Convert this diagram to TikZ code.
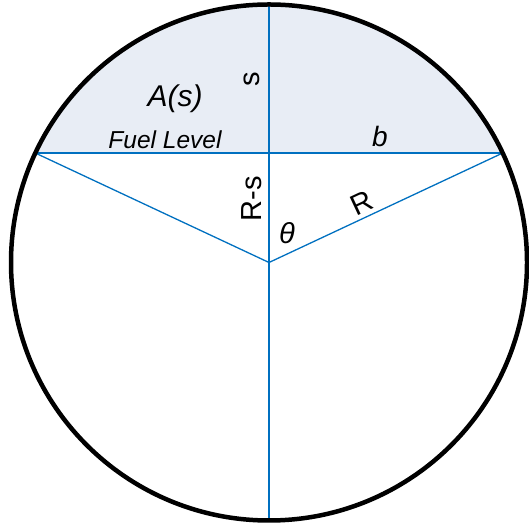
\documentclass[tikz,border=0pt]{standalone}
\usepackage{fontspec}
\setmainfont{Liberation Sans}
\usetikzlibrary{calc}
\definecolor{tankblue}{RGB}{0,112,192}
\definecolor{fuelfill}{RGB}{232,237,245}

\begin{document}
\begin{tikzpicture}[x=1pt,y=1pt,
  radial/.style={draw=tankblue,line width=1.3pt},
  lbl/.style={inner sep=0pt,font=\fontsize{29}{29}\selectfont}]
  \useasboundingbox (0,0) rectangle (528,529);
  \coordinate (O) at (269,266.5);
  \coordinate (L) at ($(O)+(154.9:258)$);
  \coordinate (Rt) at ($(O)+(25.1:258)$);
  \coordinate (T) at ($(O)+(0,258)$);
  \coordinate (B) at ($(O)+(0,-258)$);
  % fuel segment above the level
  \fill[fuelfill] (Rt) arc[start angle=25.1,end angle=154.9,radius=258pt] -- cycle;
  \draw[radial] (L) -- (Rt);
  \draw[radial] (T) -- (B);
  \draw[radial] (L) -- (O) -- (Rt);
  \draw[line width=4.5pt] (O) circle (258pt);
  \node[lbl,font=\fontsize{30}{30}\selectfont\itshape] (area) at (175,430) {A(s)};
  \node[lbl,font=\fontsize{24.5}{24.5}\selectfont\itshape] (level) at (165,389) {Fuel Level};
  \node[lbl,rotate=90] (depth) at (252,450) {s};
  \node[lbl,rotate=90] (rest) at (252,330) {R-s};
  \node[lbl,font=\fontsize{29}{29}\selectfont\itshape] (angle) at (287,296) {θ};
  \node[lbl,rotate=25.1] (radius) at (362,326) {R};
  \node[lbl,font=\fontsize{28}{28}\selectfont\itshape] (half) at (380,393) {b};
\end{tikzpicture}
\end{document}
